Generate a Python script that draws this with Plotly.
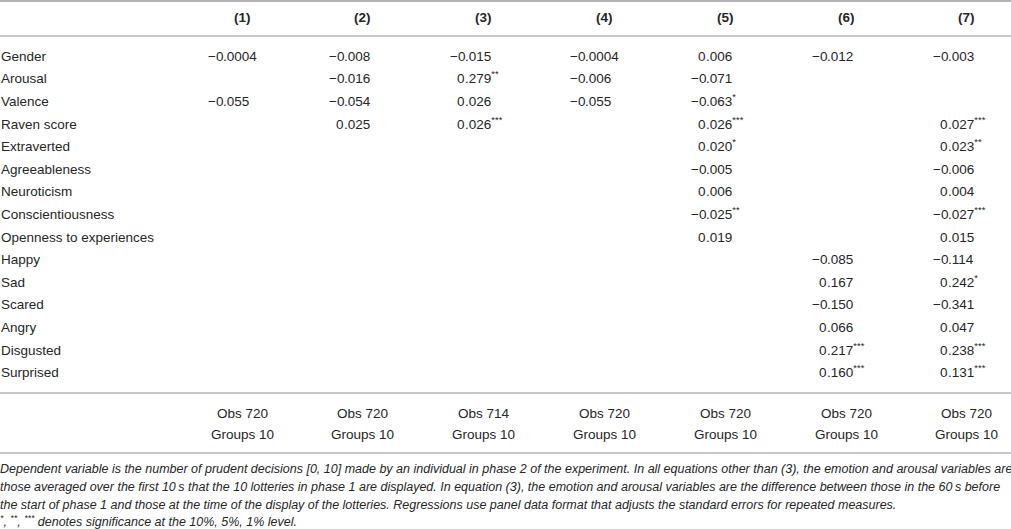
import plotly.graph_objects as go

# regression table: one list per model, '' where the variable is not in the model
variables = ["Gender", "Arousal", "Valence", "Raven score", "Extraverted", "Agreeableness",
             "Neuroticism", "Conscientiousness", "Openness to experiences", "Happy", "Sad",
             "Scared", "Angry", "Disgusted", "Surprised"]
models = ["(1)", "(2)", "(3)", "(4)", "(5)", "(6)", "(7)"]

m1 = ["−0.0004", "", "−0.055", "", "", "", "", "", "", "", "", "", "", "", ""]
m2 = ["−0.008", "−0.016", "−0.054", "0.025", "", "", "", "", "", "", "", "", "", "", ""]
m3 = ["−0.015", "0.279**", "0.026", "0.026***", "", "", "", "", "", "", "", "", "", "", ""]
m4 = ["−0.0004", "−0.006", "−0.055", "", "", "", "", "", "", "", "", "", "", "", ""]
m5 = ["0.006", "−0.071", "−0.063*", "0.026***", "0.020*", "−0.005", "0.006", "−0.025**",
      "0.019", "", "", "", "", "", ""]
m6 = ["−0.012", "", "", "", "", "", "", "", "", "−0.085", "0.167", "−0.150", "0.066",
      "0.217***", "0.160***"]
m7 = ["−0.003", "", "", "0.027***", "0.023**", "−0.006", "0.004", "−0.027***", "0.015",
      "−0.114", "0.242*", "−0.341", "0.047", "0.238***", "0.131***"]
coefs = [m1, m2, m3, m4, m5, m6, m7]

obs = [720, 720, 714, 720, 720, 720, 720]
groups = [10, 10, 10, 10, 10, 10, 10]

notes = [
    "Dependent variable is the number of prudent decisions [0, 10] made by an individual in phase 2 of the experiment. "
    "In all equations other than (3), the emotion and arousal variables are",
    "those averaged over the first 10\u2009s that the 10 lotteries in phase 1 are displayed. In equation (3), "
    "the emotion and arousal variables are the difference between those in the 60\u2009s before",
    "the start of phase 1 and those at the time of the display of the lotteries. Regressions use panel data "
    "format that adjusts the standard errors for repeated measures.",
    "<sup>*</sup>, <sup>**</sup>, <sup>***</sup> denotes significance at the 10%, 5%, 1% level.",
]

W, H = 1011, 529
FONT = "Liberation Sans, Arial, sans-serif"
TXT = "#262626"
RULE = "#b4b4b4"

col_x = [242 + 120.8 * k for k in range(len(models))]
dec_off = 19
row_y0, row_dy = 56, 22.6
base = 7.8  # box bottom below the row centre

fig = go.Figure()
fig.add_trace(go.Scatter(x=[0, W], y=[0, H], mode="markers", marker=dict(opacity=0),
                         hoverinfo="skip", showlegend=False))

ann = []


def txt(x, y, s, anchor="center", size=13.5, vmid=False):
    # table cells are anchored on the box bottom so superscripts keep the baseline
    ann.append(dict(x=x, y=y if vmid else y + base, xref="x", yref="y", text=s,
                    showarrow=False, xanchor=anchor,
                    yanchor="middle" if vmid else "bottom", borderpad=0, borderwidth=0,
                    font=dict(family=FONT, size=size, color=TXT)))


for k, name in enumerate(models):
    txt(col_x[k], 17, "<b>" + name + "</b>")
    txt(col_x[k], 413, "Obs %d" % obs[k])
    txt(col_x[k], 434, "Groups %d" % groups[k])

for i, v in enumerate(variables):
    y = row_y0 + row_dy * i
    txt(1, y, v, anchor="left")
    for k in range(len(models)):
        s = coefs[k][i]
        if not s:
            continue
        stars = s[len(s.rstrip("*")):]
        num = s.rstrip("*")
        whole, frac = num.split(".")
        dx = col_x[k] - dec_off
        txt(dx, y, whole, anchor="right")
        txt(dx, y, "." + frac + ("<sup>" + stars + "</sup>" if stars else ""), anchor="left")

note_y = [469, 487, 505, 521]
for s, y in zip(notes, note_y):
    txt(0, y, "<i>" + s + "</i>", anchor="left", size=12.5, vmid=True)

shapes = []
for y, w in [(1, 2), (36, 1.5), (393, 1.5), (453, 1.5)]:
    shapes.append(dict(type="line", xref="x", yref="y", x0=0, x1=W, y0=y, y1=y,
                       line=dict(color=RULE, width=w)))

fig.update_layout(
    width=W,
    height=H,
    margin=dict(l=0, r=0, t=0, b=0),
    paper_bgcolor="white",
    plot_bgcolor="white",
    showlegend=False,
    annotations=ann,
    shapes=shapes,
    xaxis=dict(range=[0, W], visible=False, fixedrange=True),
    yaxis=dict(range=[H, 0], visible=False, fixedrange=True),
)

fig.write_html("out.html", config={"displayModeBar": False},
               post_script="document.body.style.margin='0';document.body.style.overflow='hidden';")
